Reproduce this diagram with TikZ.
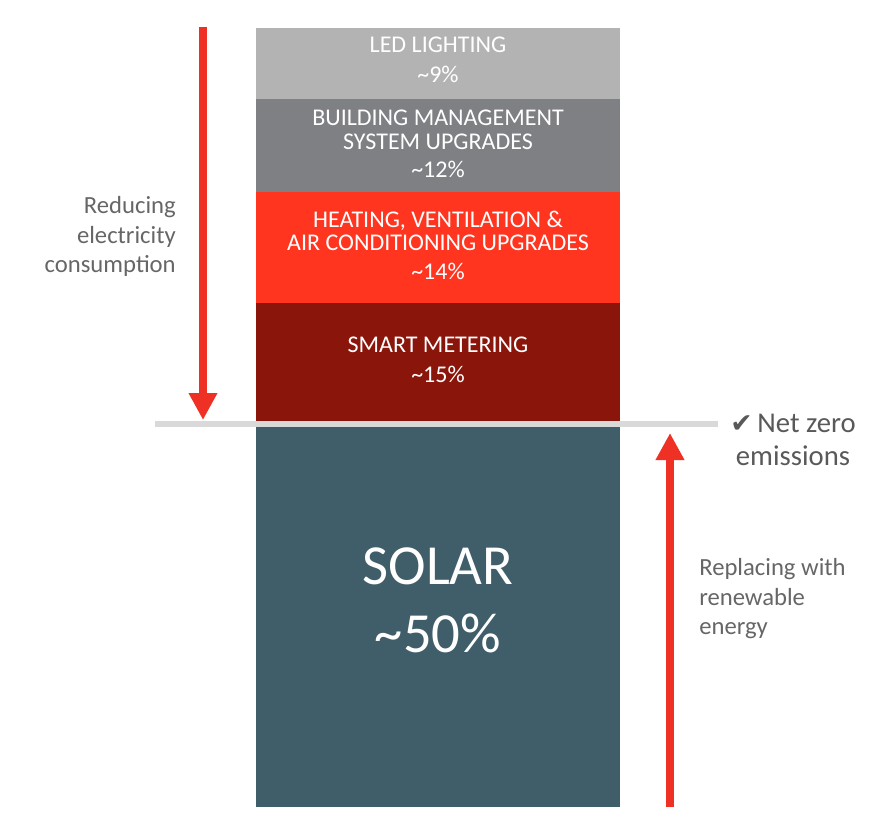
\documentclass[tikz,border=0pt]{standalone}
\usepackage{fontspec}
\setmainfont{Carlito}
\newfontfamily\symfont{DejaVu Sans}
\usetikzlibrary{arrows.meta,fit}
\definecolor{ledc}{HTML}{B3B3B3}
\definecolor{bmsc}{HTML}{7F8083}
\definecolor{hvacc}{HTML}{FF3520}
\definecolor{smartc}{HTML}{8A150A}
\definecolor{solarc}{HTML}{405E6A}
\definecolor{arrowc}{HTML}{EE3124}
\definecolor{linec}{HTML}{D9D9D9}
\definecolor{labelc}{HTML}{666666}
\definecolor{netc}{HTML}{595959}
\begin{document}
\begin{tikzpicture}[x=0.75pt,y=-0.75pt,
  block/.style={inner sep=0pt, draw=none},
  btxt/.style={anchor=base, inner sep=0pt, text=white, font=\fontsize{18}{20}\selectfont},
  ltxt/.style={inner sep=0pt, text=labelc, font=\fontsize{18.5}{22}\selectfont},
  ntxt/.style={anchor=base, inner sep=0pt, text=netc, font=\fontsize{21.5}{24}\selectfont},
  stxt/.style={anchor=base, inner sep=0pt, text=white, font=\fontsize{42.5}{48}\selectfont},
  redarrow/.style={draw=arrowc, line width=6pt, -{Triangle[width=20.25pt,length=20.25pt]}}]
\useasboundingbox (0,0) rectangle (895,831);
% blocks
\node[block, fit={(256,28) (620,99)}, fill=ledc] (led) {};
\node[block, fit={(256,99) (620,192)}, fill=bmsc] (bms) {};
\node[block, fit={(256,192) (620,303)}, fill=hvacc] (hvac) {};
\node[block, fit={(256,303) (620,421)}, fill=smartc] (smart) {};
\node[block, fit={(256,427) (620,807)}, fill=solarc] (solar) {};
% net zero line
\coordinate (zl) at (155,424);
\coordinate (zr) at (718,424);
\draw[linec, line width=4.5pt] (zl) -- (zr);
% block texts
\node[btxt] (t1a) at (438,53) {LED LIGHTING};
\node[btxt] (t1b) at (438,83) {\textasciitilde9\%};
\node[btxt] (t2a) at (438,126) {BUILDING MANAGEMENT};
\node[btxt] (t2b) at (438,150) {SYSTEM UPGRADES};
\node[btxt] (t2c) at (438,177) {\textasciitilde12\%};
\node[btxt] (t3a) at (438,227) {HEATING, VENTILATION \&};
\node[btxt] (t3b) at (438,250) {AIR CONDITIONING UPGRADES};
\node[btxt] (t3c) at (438,279) {\textasciitilde14\%};
\node[btxt] (t4a) at (438,352) {SMART METERING};
\node[btxt] (t4b) at (438,382) {\textasciitilde15\%};
\node[stxt] (t5a) at (438,584) {SOLAR};
\node[stxt] (t5b) at (438,652) {\textasciitilde50\%};
% arrows
\coordinate (la1) at (203,27);
\coordinate (la2) at (203,420);
\draw[redarrow] (la1) -- (la2);
\coordinate (ra1) at (670,807);
\coordinate (ra2) at (670,433);
\draw[redarrow] (ra1) -- (ra2);
% side labels
\node[ltxt, anchor=base east] (l1) at (176,213) {Reducing};
\node[ltxt, anchor=base east] (l2) at (176,243) {electricity};
\node[ltxt, anchor=base east] (l3) at (176,272) {consumption};
\node[ltxt, anchor=base west] (r1) at (699,575) {Replacing with};
\node[ltxt, anchor=base west] (r2) at (699,605) {renewable};
\node[ltxt, anchor=base west] (r3) at (699,634) {energy};
\node[ntxt] (n1) at (793,432) {{\symfont\fontsize{20}{22}\selectfont ✔}\,Net zero};
\node[ntxt] (n2) at (793,465) {emissions};
\end{tikzpicture}
\end{document}
